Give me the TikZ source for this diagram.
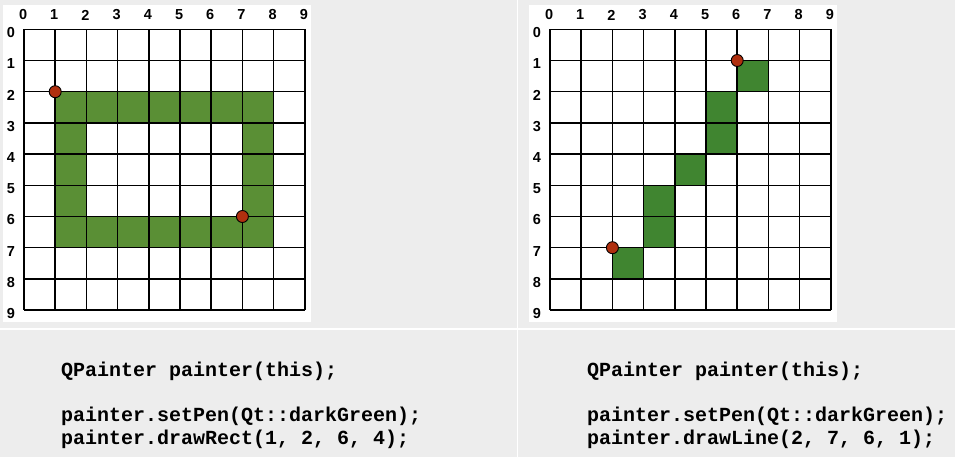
\documentclass[tikz,border=0pt]{standalone}
\usepackage{fontspec}
\newfontfamily\numfont{Liberation Sans}[BoldFont={* Bold}]
\newfontfamily\codefont{Liberation Mono}
\definecolor{panelgray}{HTML}{EDEDED}
\definecolor{rectgreen}{HTML}{5A8F35}
\definecolor{linegreen}{HTML}{408530}
\definecolor{penred}{HTML}{B0300F}
\tikzset{
  axisnum/.style={font=\numfont\bfseries\fontsize{14.5}{16}\selectfont, inner sep=0pt},
  codeline/.style={font=\codefont\bfseries\fontsize{20}{23}\selectfont, inner sep=0pt, anchor=base west},
  pendot/.style={fill=penred, draw=black, line width=0.9pt},
  gridline/.style={line width=1.5pt}
}

\begin{document}
\begin{tikzpicture}[x=1pt, y=-1pt]
\useasboundingbox (0,0) rectangle (955,457);
\fill[panelgray] (0,0) rectangle (955,457);
\fill[white] (3,5) rectangle (311,322);
\fill[white] (529,5) rectangle (837,322);
\draw[white, line width=2pt] (0,328.5) -- (955,328.5);
\draw[white, line width=1.5pt] (517.5,0) -- (517.5,457);
% left: drawRect
\begin{scope}[shift={(24,29.3)}, x=31.2pt, y=-31.2pt]
  \foreach \x in {1,...,7} {
    \fill[rectgreen] (\x,2) rectangle ++(1,1);
    \fill[rectgreen] (\x,6) rectangle ++(1,1);
  }
  \foreach \y in {3,4,5} {
    \fill[rectgreen] (1,\y) rectangle ++(1,1);
    \fill[rectgreen] (7,\y) rectangle ++(1,1);
  }
  \foreach \i in {0,...,9}
    \draw[gridline] (\i,0) -- (\i,9) (0,\i) -- (9,\i);
  \foreach \n in {0,...,9} {
    \node[axisnum] (lcol\n) at (\n-0.03,-0.46) {\n};
    \node[axisnum] (lrow\n) at (-0.42,\n+0.11) {\n};
  }
  \filldraw[pendot] (1,2) circle [radius=6pt];
  \filldraw[pendot] (7,6) circle [radius=6pt];
\end{scope}
% right: drawLine
\begin{scope}[shift={(550,29.3)}, x=31.2pt, y=-31.2pt]
  \foreach \x/\y in {2/7,3/6,3/5,4/4,5/3,5/2,6/1}
    \fill[linegreen] (\x,\y) rectangle ++(1,1);
  \foreach \i in {0,...,9}
    \draw[gridline] (\i,0) -- (\i,9) (0,\i) -- (9,\i);
  \foreach \n in {0,...,9} {
    \node[axisnum] (rcol\n) at (\n-0.03,-0.46) {\n};
    \node[axisnum] (rrow\n) at (-0.42,\n+0.11) {\n};
  }
  \filldraw[pendot] (2,7) circle [radius=6pt];
  \filldraw[pendot] (6,1) circle [radius=6pt];
\end{scope}
\node[codeline] (lnew) at (61,376) {QPainter painter(this);};
\node[codeline] (lpen) at (61,421) {painter.setPen(Qt::darkGreen);};
\node[codeline] (lrect) at (61,444) {painter.drawRect(1, 2, 6, 4);};
\node[codeline] (rnew) at (587,376) {QPainter painter(this);};
\node[codeline] (rpen) at (587,421) {painter.setPen(Qt::darkGreen);};
\node[codeline] (rline) at (587,444) {painter.drawLine(2, 7, 6, 1);};
\end{tikzpicture}
\end{document}
